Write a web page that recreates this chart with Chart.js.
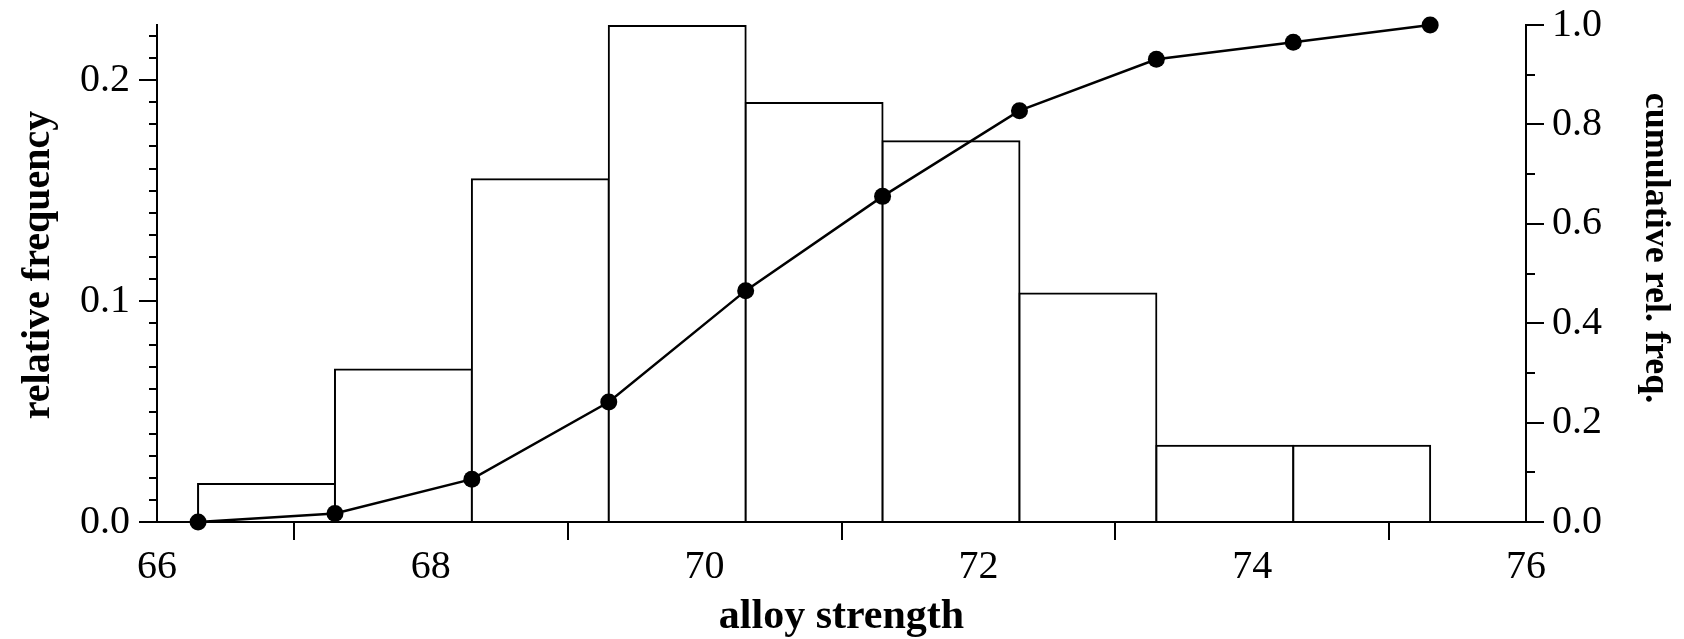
<!DOCTYPE html>
<html><head><meta charset="utf-8">
<script src="https://cdn.jsdelivr.net/npm/chart.js@4/dist/chart.umd.min.js"></script>
<style>html,body{margin:0;padding:0;background:#fff;overflow:hidden;}</style>
</head><body>
<canvas id="c" width="1684" height="639"></canvas>
<script>
// ---- data ----
const binStarts = [66.3, 67.3, 68.3, 69.3, 70.3, 71.3, 72.3, 73.3, 74.3];
const binWidth = 1;
const relFreq = [0.0172, 0.0690, 0.1552, 0.2245, 0.1897, 0.1724, 0.1034, 0.0345, 0.0345];
const cumX = [66.3, 67.3, 68.3, 69.3, 70.3, 71.3, 72.3, 73.3, 74.3, 75.3];
const cumRelFreq = [0.0, 0.0172, 0.0862, 0.2414, 0.4655, 0.6552, 0.8276, 0.9310, 0.9655, 1.0];

// ---- ticks / labels ----
const xTicks = [66, 68, 70, 72, 74, 76];
const xTickLabels = ['66', '68', '70', '72', '74', '76'];
const xMinorTicks = [67, 69, 71, 73, 75];
const yTicks = [0, 0.1, 0.2];
const yTickLabels = ['0.0', '0.1', '0.2'];
const yMinorTicks = [0.01, 0.02, 0.03, 0.04, 0.05, 0.06, 0.07, 0.08, 0.09, 0.11, 0.12, 0.13, 0.14, 0.15, 0.16, 0.17, 0.18, 0.19, 0.21, 0.22];
const y2Ticks = [0, 0.2, 0.4, 0.6, 0.8, 1.0];
const y2TickLabels = ['0.0', '0.2', '0.4', '0.6', '0.8', '1.0'];
const y2MinorTicks = [0.1, 0.3, 0.5, 0.7, 0.9];
const xTitle = 'alloy strength';
const yTitle = 'relative frequency';
const y2Title = 'cumulative rel. freq.';

const FONT = '"Liberation Serif", "Times New Roman", serif';
Chart.defaults.font.family = FONT;
Chart.defaults.color = '#000';

const axisGrid = { drawOnChartArea: false, drawTicks: true, tickLength: 18, lineWidth: 2, color: '#000', z: 1 };
const axisBorder = { display: true, color: '#000', width: 2, z: 1 };

const extras = {
  id: 'extras',
  afterDraw(chart) {
    const c = chart.ctx;
    const { x, y, y2 } = chart.scales;
    c.save();
    c.strokeStyle = '#000';
    c.lineWidth = 2;
    c.beginPath();
    xMinorTicks.forEach(v => { const px = Math.round(x.getPixelForValue(v)); c.moveTo(px, x.top); c.lineTo(px, x.top + 8); });
    yMinorTicks.forEach(v => { const py = Math.round(y.getPixelForValue(v)); c.moveTo(y.right - 8, py); c.lineTo(y.right, py); });
    y2MinorTicks.forEach(v => { const py = Math.round(y2.getPixelForValue(v)); c.moveTo(y2.left, py); c.lineTo(y2.left + 9, py); });
    c.stroke();
    c.fillStyle = '#000';
    c.textAlign = 'center';
    c.textBaseline = 'middle';
    c.font = 'bold 40px ' + FONT;
    c.save(); c.translate(39, 265); c.rotate(-Math.PI / 2); c.fillText(yTitle, 0, 0); c.restore();
    c.font = 'bold 36px ' + FONT;
    c.save(); c.translate(1655, 248); c.rotate(Math.PI / 2); c.fillText(y2Title, 0, 0); c.restore();
    c.restore();
  }
};

new Chart(document.getElementById('c'), {
  type: 'bar',
  data: {
    datasets: [
      {
        type: 'line', label: y2Title,
        data: cumX.map((v, i) => ({ x: v, y: cumRelFreq[i] })),
        xAxisID: 'x', yAxisID: 'y2',
        borderColor: '#000', borderWidth: 2.5, tension: 0,
        pointRadius: 8.5, pointBackgroundColor: '#000', pointBorderColor: '#000', pointBorderWidth: 0,
        order: 0, clip: false
      },
      {
        type: 'bar', label: yTitle,
        data: binStarts.map((s, i) => ({ x: s + binWidth / 2, y: relFreq[i] })),
        xAxisID: 'x', yAxisID: 'y',
        backgroundColor: '#fff', borderColor: '#000', borderWidth: 2, borderSkipped: 'start',
        inflateAmount: 1, barPercentage: 1, categoryPercentage: 1, grouped: false,
        order: 1, clip: false
      }
    ]
  },
  options: {
    responsive: false, animation: false, devicePixelRatio: 1,
    layout: { padding: { top: 25, left: 0, right: 0, bottom: 0 } },
    plugins: { legend: { display: false }, tooltip: { enabled: false } },
    scales: {
      x: {
        type: 'linear', position: 'bottom', min: 66, max: 76, offset: false,
        afterBuildTicks: s => { s.ticks = xTicks.map(v => ({ value: v })); },
        afterFit: s => { s.height = 117; s.paddingLeft = 0; s.paddingRight = 0; },
        ticks: { font: { size: 40 }, color: '#000', padding: 3, maxRotation: 0, autoSkip: false,
                 callback: (v, i) => xTickLabels[i] },
        grid: axisGrid, border: axisBorder,
        title: { display: true, text: xTitle, color: '#000', font: { size: 42, weight: 'bold', lineHeight: 1 },
                 padding: { top: 0, bottom: 1 } }
      },
      y: {
        type: 'linear', position: 'left', min: 0, max: 0.225,
        afterBuildTicks: s => { s.ticks = yTicks.map(v => ({ value: v })); },
        afterFit: s => { s.width = 157; s.paddingTop = 0; s.paddingBottom = 0; },
        ticks: { font: { size: 40 }, color: '#000', padding: 9, autoSkip: false,
                 callback: (v, i) => yTickLabels[i] },
        grid: axisGrid, border: axisBorder
      },
      y2: {
        type: 'linear', position: 'right', min: 0, max: 1,
        afterBuildTicks: s => { s.ticks = y2Ticks.map(v => ({ value: v })); },
        afterFit: s => { s.width = 158; s.paddingTop = 0; s.paddingBottom = 0; },
        ticks: { font: { size: 40 }, color: '#000', padding: 8, autoSkip: false,
                 callback: (v, i) => y2TickLabels[i] },
        grid: axisGrid, border: axisBorder
      }
    }
  },
  plugins: [extras]
});
</script>
</body></html>
